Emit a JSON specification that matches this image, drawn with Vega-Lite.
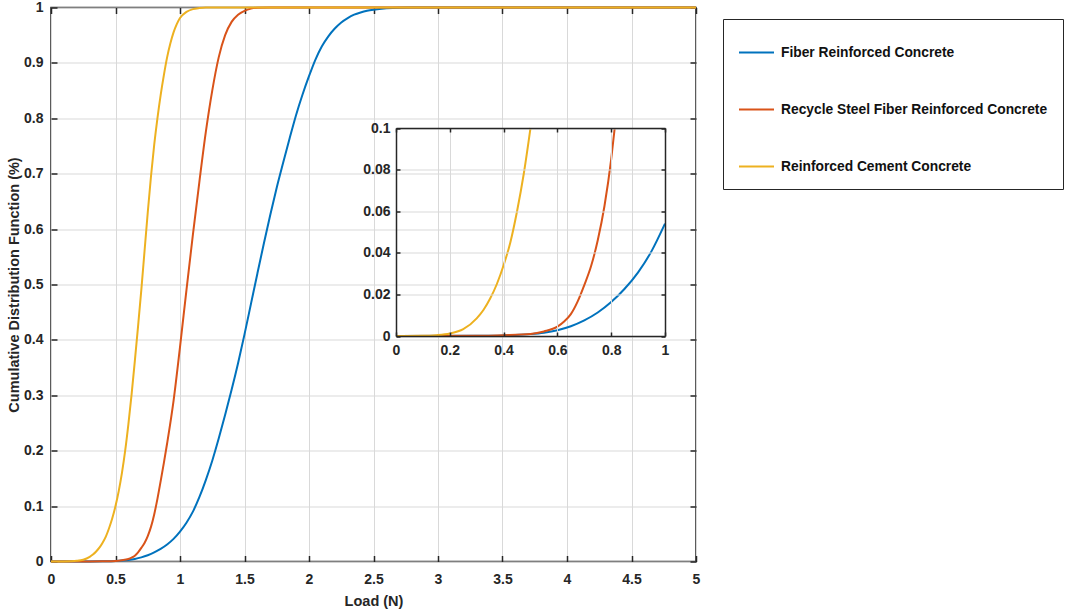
{
  "$schema": "https://vega.github.io/schema/vega-lite/v6.json",
  "width": 645,
  "height": 554,
  "autosize": {"type": "none"},
  "padding": {"left": 51, "top": 7.5, "right": 370, "bottom": 48.5},
  "background": "white",
  "config": {
    "view": {"stroke": "#262626", "strokeWidth": 1.5},
    "axis": {
      "labelFont": "Liberation Sans",
      "labelFontWeight": "bold",
      "labelFontSize": 14,
      "labelColor": "#262626",
      "titleFont": "Liberation Sans",
      "titleFontWeight": "bold",
      "titleFontSize": 14.5,
      "titleColor": "#262626",
      "tickColor": "#262626",
      "tickWidth": 1.5,
      "gridColor": "#d9d9d9",
      "gridWidth": 1,
      "domain": false
    }
  },
  "datasets": {
    "main": [
      {"series": "Fiber Reinforced Concrete", "load": 0, "cdf": 0},
      {"series": "Fiber Reinforced Concrete", "load": 0.3, "cdf": 0.0001},
      {"series": "Fiber Reinforced Concrete", "load": 0.4, "cdf": 0.0003},
      {"series": "Fiber Reinforced Concrete", "load": 0.5, "cdf": 0.0009},
      {"series": "Fiber Reinforced Concrete", "load": 0.55, "cdf": 0.0016},
      {"series": "Fiber Reinforced Concrete", "load": 0.6, "cdf": 0.0028},
      {"series": "Fiber Reinforced Concrete", "load": 0.65, "cdf": 0.0047},
      {"series": "Fiber Reinforced Concrete", "load": 0.7, "cdf": 0.0075},
      {"series": "Fiber Reinforced Concrete", "load": 0.75, "cdf": 0.0113},
      {"series": "Fiber Reinforced Concrete", "load": 0.8, "cdf": 0.0163},
      {"series": "Fiber Reinforced Concrete", "load": 0.85, "cdf": 0.0227},
      {"series": "Fiber Reinforced Concrete", "load": 0.9, "cdf": 0.0306},
      {"series": "Fiber Reinforced Concrete", "load": 0.95, "cdf": 0.0408},
      {"series": "Fiber Reinforced Concrete", "load": 1.0, "cdf": 0.054},
      {"series": "Fiber Reinforced Concrete", "load": 1.05, "cdf": 0.07},
      {"series": "Fiber Reinforced Concrete", "load": 1.1, "cdf": 0.09},
      {"series": "Fiber Reinforced Concrete", "load": 1.15, "cdf": 0.116},
      {"series": "Fiber Reinforced Concrete", "load": 1.2, "cdf": 0.147},
      {"series": "Fiber Reinforced Concrete", "load": 1.25, "cdf": 0.182},
      {"series": "Fiber Reinforced Concrete", "load": 1.3, "cdf": 0.222},
      {"series": "Fiber Reinforced Concrete", "load": 1.35, "cdf": 0.265},
      {"series": "Fiber Reinforced Concrete", "load": 1.4, "cdf": 0.31},
      {"series": "Fiber Reinforced Concrete", "load": 1.45, "cdf": 0.358},
      {"series": "Fiber Reinforced Concrete", "load": 1.5, "cdf": 0.41},
      {"series": "Fiber Reinforced Concrete", "load": 1.55, "cdf": 0.465},
      {"series": "Fiber Reinforced Concrete", "load": 1.6, "cdf": 0.52},
      {"series": "Fiber Reinforced Concrete", "load": 1.65, "cdf": 0.574},
      {"series": "Fiber Reinforced Concrete", "load": 1.7, "cdf": 0.626},
      {"series": "Fiber Reinforced Concrete", "load": 1.75, "cdf": 0.675},
      {"series": "Fiber Reinforced Concrete", "load": 1.8, "cdf": 0.72},
      {"series": "Fiber Reinforced Concrete", "load": 1.85, "cdf": 0.764},
      {"series": "Fiber Reinforced Concrete", "load": 1.9, "cdf": 0.806},
      {"series": "Fiber Reinforced Concrete", "load": 1.95, "cdf": 0.843},
      {"series": "Fiber Reinforced Concrete", "load": 2.0, "cdf": 0.876},
      {"series": "Fiber Reinforced Concrete", "load": 2.05, "cdf": 0.906},
      {"series": "Fiber Reinforced Concrete", "load": 2.1, "cdf": 0.93},
      {"series": "Fiber Reinforced Concrete", "load": 2.15, "cdf": 0.948},
      {"series": "Fiber Reinforced Concrete", "load": 2.2, "cdf": 0.962},
      {"series": "Fiber Reinforced Concrete", "load": 2.25, "cdf": 0.973},
      {"series": "Fiber Reinforced Concrete", "load": 2.3, "cdf": 0.981},
      {"series": "Fiber Reinforced Concrete", "load": 2.35, "cdf": 0.987},
      {"series": "Fiber Reinforced Concrete", "load": 2.4, "cdf": 0.991},
      {"series": "Fiber Reinforced Concrete", "load": 2.45, "cdf": 0.994},
      {"series": "Fiber Reinforced Concrete", "load": 2.5, "cdf": 0.996},
      {"series": "Fiber Reinforced Concrete", "load": 2.6, "cdf": 0.9985},
      {"series": "Fiber Reinforced Concrete", "load": 2.7, "cdf": 0.9997},
      {"series": "Fiber Reinforced Concrete", "load": 2.8, "cdf": 1},
      {"series": "Fiber Reinforced Concrete", "load": 5, "cdf": 1},
      {"series": "Recycle Steel Fiber Reinforced Concrete", "load": 0, "cdf": 0},
      {"series": "Recycle Steel Fiber Reinforced Concrete", "load": 0.3, "cdf": 0.0001},
      {"series": "Recycle Steel Fiber Reinforced Concrete", "load": 0.4, "cdf": 0.0004},
      {"series": "Recycle Steel Fiber Reinforced Concrete", "load": 0.5, "cdf": 0.001},
      {"series": "Recycle Steel Fiber Reinforced Concrete", "load": 0.55, "cdf": 0.0022},
      {"series": "Recycle Steel Fiber Reinforced Concrete", "load": 0.6, "cdf": 0.0045},
      {"series": "Recycle Steel Fiber Reinforced Concrete", "load": 0.625, "cdf": 0.007},
      {"series": "Recycle Steel Fiber Reinforced Concrete", "load": 0.65, "cdf": 0.0105},
      {"series": "Recycle Steel Fiber Reinforced Concrete", "load": 0.675, "cdf": 0.0165},
      {"series": "Recycle Steel Fiber Reinforced Concrete", "load": 0.7, "cdf": 0.0245},
      {"series": "Recycle Steel Fiber Reinforced Concrete", "load": 0.725, "cdf": 0.0335},
      {"series": "Recycle Steel Fiber Reinforced Concrete", "load": 0.75, "cdf": 0.046},
      {"series": "Recycle Steel Fiber Reinforced Concrete", "load": 0.775, "cdf": 0.0625},
      {"series": "Recycle Steel Fiber Reinforced Concrete", "load": 0.8, "cdf": 0.085},
      {"series": "Recycle Steel Fiber Reinforced Concrete", "load": 0.825, "cdf": 0.113},
      {"series": "Recycle Steel Fiber Reinforced Concrete", "load": 0.85, "cdf": 0.145},
      {"series": "Recycle Steel Fiber Reinforced Concrete", "load": 0.875, "cdf": 0.178},
      {"series": "Recycle Steel Fiber Reinforced Concrete", "load": 0.9, "cdf": 0.213},
      {"series": "Recycle Steel Fiber Reinforced Concrete", "load": 0.95, "cdf": 0.29},
      {"series": "Recycle Steel Fiber Reinforced Concrete", "load": 1.0, "cdf": 0.387},
      {"series": "Recycle Steel Fiber Reinforced Concrete", "load": 1.05, "cdf": 0.49},
      {"series": "Recycle Steel Fiber Reinforced Concrete", "load": 1.1, "cdf": 0.59},
      {"series": "Recycle Steel Fiber Reinforced Concrete", "load": 1.15, "cdf": 0.685},
      {"series": "Recycle Steel Fiber Reinforced Concrete", "load": 1.2, "cdf": 0.775},
      {"series": "Recycle Steel Fiber Reinforced Concrete", "load": 1.25, "cdf": 0.85},
      {"series": "Recycle Steel Fiber Reinforced Concrete", "load": 1.3, "cdf": 0.91},
      {"series": "Recycle Steel Fiber Reinforced Concrete", "load": 1.35, "cdf": 0.95},
      {"series": "Recycle Steel Fiber Reinforced Concrete", "load": 1.4, "cdf": 0.974},
      {"series": "Recycle Steel Fiber Reinforced Concrete", "load": 1.45, "cdf": 0.987},
      {"series": "Recycle Steel Fiber Reinforced Concrete", "load": 1.5, "cdf": 0.994},
      {"series": "Recycle Steel Fiber Reinforced Concrete", "load": 1.55, "cdf": 0.998},
      {"series": "Recycle Steel Fiber Reinforced Concrete", "load": 1.6, "cdf": 0.9995},
      {"series": "Recycle Steel Fiber Reinforced Concrete", "load": 1.7, "cdf": 1},
      {"series": "Recycle Steel Fiber Reinforced Concrete", "load": 5, "cdf": 1},
      {"series": "Reinforced Cement Concrete", "load": 0, "cdf": 0},
      {"series": "Reinforced Cement Concrete", "load": 0.1, "cdf": 0.0001},
      {"series": "Reinforced Cement Concrete", "load": 0.15, "cdf": 0.0004},
      {"series": "Reinforced Cement Concrete", "load": 0.2, "cdf": 0.0012},
      {"series": "Reinforced Cement Concrete", "load": 0.25, "cdf": 0.0033},
      {"series": "Reinforced Cement Concrete", "load": 0.3, "cdf": 0.0085},
      {"series": "Reinforced Cement Concrete", "load": 0.325, "cdf": 0.0125},
      {"series": "Reinforced Cement Concrete", "load": 0.35, "cdf": 0.018},
      {"series": "Reinforced Cement Concrete", "load": 0.375, "cdf": 0.025},
      {"series": "Reinforced Cement Concrete", "load": 0.4, "cdf": 0.034},
      {"series": "Reinforced Cement Concrete", "load": 0.425, "cdf": 0.045},
      {"series": "Reinforced Cement Concrete", "load": 0.45, "cdf": 0.06},
      {"series": "Reinforced Cement Concrete", "load": 0.475, "cdf": 0.078},
      {"series": "Reinforced Cement Concrete", "load": 0.5, "cdf": 0.1},
      {"series": "Reinforced Cement Concrete", "load": 0.525, "cdf": 0.127},
      {"series": "Reinforced Cement Concrete", "load": 0.55, "cdf": 0.16},
      {"series": "Reinforced Cement Concrete", "load": 0.575, "cdf": 0.2},
      {"series": "Reinforced Cement Concrete", "load": 0.6, "cdf": 0.248},
      {"series": "Reinforced Cement Concrete", "load": 0.625, "cdf": 0.302},
      {"series": "Reinforced Cement Concrete", "load": 0.65, "cdf": 0.362},
      {"series": "Reinforced Cement Concrete", "load": 0.675, "cdf": 0.425},
      {"series": "Reinforced Cement Concrete", "load": 0.7, "cdf": 0.49},
      {"series": "Reinforced Cement Concrete", "load": 0.725, "cdf": 0.56},
      {"series": "Reinforced Cement Concrete", "load": 0.75, "cdf": 0.63},
      {"series": "Reinforced Cement Concrete", "load": 0.775, "cdf": 0.695},
      {"series": "Reinforced Cement Concrete", "load": 0.8, "cdf": 0.752},
      {"series": "Reinforced Cement Concrete", "load": 0.825, "cdf": 0.8},
      {"series": "Reinforced Cement Concrete", "load": 0.85, "cdf": 0.842},
      {"series": "Reinforced Cement Concrete", "load": 0.875, "cdf": 0.878},
      {"series": "Reinforced Cement Concrete", "load": 0.9, "cdf": 0.91},
      {"series": "Reinforced Cement Concrete", "load": 0.925, "cdf": 0.935},
      {"series": "Reinforced Cement Concrete", "load": 0.95, "cdf": 0.955},
      {"series": "Reinforced Cement Concrete", "load": 0.975, "cdf": 0.97},
      {"series": "Reinforced Cement Concrete", "load": 1.0, "cdf": 0.981},
      {"series": "Reinforced Cement Concrete", "load": 1.05, "cdf": 0.992},
      {"series": "Reinforced Cement Concrete", "load": 1.1, "cdf": 0.997},
      {"series": "Reinforced Cement Concrete", "load": 1.15, "cdf": 0.999},
      {"series": "Reinforced Cement Concrete", "load": 1.2, "cdf": 1},
      {"series": "Reinforced Cement Concrete", "load": 5, "cdf": 1}
    ],
    "inset": [
      {"series": "Fiber Reinforced Concrete", "load": 0, "cdf": 0},
      {"series": "Fiber Reinforced Concrete", "load": 0.3, "cdf": 0.0001},
      {"series": "Fiber Reinforced Concrete", "load": 0.4, "cdf": 0.0003},
      {"series": "Fiber Reinforced Concrete", "load": 0.5, "cdf": 0.0009},
      {"series": "Fiber Reinforced Concrete", "load": 0.55, "cdf": 0.0016},
      {"series": "Fiber Reinforced Concrete", "load": 0.6, "cdf": 0.0028},
      {"series": "Fiber Reinforced Concrete", "load": 0.65, "cdf": 0.0047},
      {"series": "Fiber Reinforced Concrete", "load": 0.7, "cdf": 0.0075},
      {"series": "Fiber Reinforced Concrete", "load": 0.75, "cdf": 0.0113},
      {"series": "Fiber Reinforced Concrete", "load": 0.8, "cdf": 0.0163},
      {"series": "Fiber Reinforced Concrete", "load": 0.85, "cdf": 0.0227},
      {"series": "Fiber Reinforced Concrete", "load": 0.9, "cdf": 0.0306},
      {"series": "Fiber Reinforced Concrete", "load": 0.95, "cdf": 0.0408},
      {"series": "Fiber Reinforced Concrete", "load": 1.0, "cdf": 0.054},
      {"series": "Recycle Steel Fiber Reinforced Concrete", "load": 0, "cdf": 0},
      {"series": "Recycle Steel Fiber Reinforced Concrete", "load": 0.3, "cdf": 0.0001},
      {"series": "Recycle Steel Fiber Reinforced Concrete", "load": 0.4, "cdf": 0.0004},
      {"series": "Recycle Steel Fiber Reinforced Concrete", "load": 0.5, "cdf": 0.001},
      {"series": "Recycle Steel Fiber Reinforced Concrete", "load": 0.55, "cdf": 0.0022},
      {"series": "Recycle Steel Fiber Reinforced Concrete", "load": 0.6, "cdf": 0.0045},
      {"series": "Recycle Steel Fiber Reinforced Concrete", "load": 0.625, "cdf": 0.007},
      {"series": "Recycle Steel Fiber Reinforced Concrete", "load": 0.65, "cdf": 0.0105},
      {"series": "Recycle Steel Fiber Reinforced Concrete", "load": 0.675, "cdf": 0.0165},
      {"series": "Recycle Steel Fiber Reinforced Concrete", "load": 0.7, "cdf": 0.0245},
      {"series": "Recycle Steel Fiber Reinforced Concrete", "load": 0.725, "cdf": 0.0335},
      {"series": "Recycle Steel Fiber Reinforced Concrete", "load": 0.75, "cdf": 0.046},
      {"series": "Recycle Steel Fiber Reinforced Concrete", "load": 0.775, "cdf": 0.0625},
      {"series": "Recycle Steel Fiber Reinforced Concrete", "load": 0.8, "cdf": 0.085},
      {"series": "Recycle Steel Fiber Reinforced Concrete", "load": 0.813, "cdf": 0.1},
      {"series": "Reinforced Cement Concrete", "load": 0, "cdf": 0},
      {"series": "Reinforced Cement Concrete", "load": 0.1, "cdf": 0.0001},
      {"series": "Reinforced Cement Concrete", "load": 0.15, "cdf": 0.0004},
      {"series": "Reinforced Cement Concrete", "load": 0.2, "cdf": 0.0012},
      {"series": "Reinforced Cement Concrete", "load": 0.25, "cdf": 0.0033},
      {"series": "Reinforced Cement Concrete", "load": 0.3, "cdf": 0.0085},
      {"series": "Reinforced Cement Concrete", "load": 0.325, "cdf": 0.0125},
      {"series": "Reinforced Cement Concrete", "load": 0.35, "cdf": 0.018},
      {"series": "Reinforced Cement Concrete", "load": 0.375, "cdf": 0.025},
      {"series": "Reinforced Cement Concrete", "load": 0.4, "cdf": 0.034},
      {"series": "Reinforced Cement Concrete", "load": 0.425, "cdf": 0.045},
      {"series": "Reinforced Cement Concrete", "load": 0.45, "cdf": 0.06},
      {"series": "Reinforced Cement Concrete", "load": 0.475, "cdf": 0.078},
      {"series": "Reinforced Cement Concrete", "load": 0.5, "cdf": 0.1}
    ]
  },
  "layer": [
    {
      "data": {"name": "main"},
      "mark": {"type": "line", "strokeWidth": 2, "interpolate": "monotone"},
      "encoding": {
        "x": {
          "field": "load", "type": "quantitative",
          "scale": {"domain": [0, 5], "nice": false, "zero": false},
          "axis": {
            "orient": "bottom", "title": "Load (N)",
            "values": [0, 0.5, 1, 1.5, 2, 2.5, 3, 3.5, 4, 4.5, 5],
            "format": ".1~f", "grid": true, "tickSize": -6,
            "labelPadding": 17, "titlePadding": 8, "labelFlush": false, "zindex": 0
          }
        },
        "y": {
          "field": "cdf", "type": "quantitative",
          "scale": {"domain": [0, 1], "nice": false},
          "axis": {
            "orient": "left", "title": "Cumulative Distribution Function (%)",
            "values": [0, 0.1, 0.2, 0.3, 0.4, 0.5, 0.6, 0.7, 0.8, 0.9, 1],
            "format": ".1~f", "grid": true, "tickSize": -6,
            "labelPadding": 14, "titlePadding": 2, "labelFlush": false, "zindex": 0
          }
        },
        "color": {
          "field": "series", "type": "nominal",
          "scale": {
            "domain": ["Fiber Reinforced Concrete", "Recycle Steel Fiber Reinforced Concrete", "Reinforced Cement Concrete"],
            "range": ["#0072BD", "#D95319", "#EDB120"]
          },
          "legend": {
            "title": null, "orient": "none", "legendX": 672, "legendY": 11.5,
            "symbolType": "stroke", "symbolSize": 1225, "symbolStrokeWidth": 2,
            "labelFont": "Liberation Sans", "labelFontWeight": "bold", "labelFontSize": 13.8,
            "labelColor": "#111111", "labelLimit": 400, "labelOffset": 6,
            "padding": 15, "rowPadding": 31,
            "strokeColor": "#262626", "fillColor": "white"
          }
        }
      }
    },
    {
      "data": {"name": "main"},
      "mark": {"type": "line", "opacity": 0},
      "encoding": {
        "x": {
          "field": "load", "type": "quantitative",
          "scale": {"domain": [0, 5], "nice": false, "zero": false},
          "axis": {
            "orient": "top", "title": null, "labels": false, "grid": false,
            "values": [0, 0.5, 1, 1.5, 2, 2.5, 3, 3.5, 4, 4.5, 5], "tickSize": -6
          }
        },
        "y": {
          "field": "cdf", "type": "quantitative",
          "scale": {"domain": [0, 1], "nice": false},
          "axis": {
            "orient": "right", "title": null, "labels": false, "grid": false,
            "values": [0, 0.1, 0.2, 0.3, 0.4, 0.5, 0.6, 0.7, 0.8, 0.9, 1], "tickSize": -6
          }
        }
      }
    },
    {
      "mark": {"type": "rect", "fill": "white", "strokeWidth": 0},
      "encoding": {
        "x": {
          "datum": 0, "type": "quantitative",
          "scale": {"domain": [0, 1], "range": [345, 614], "nice": false},
          "axis": {
            "orient": "top", "offset": -120.5, "title": null, "labels": false, "grid": true,
            "domain": true, "domainColor": "#262626", "domainWidth": 1.5,
            "values": [0, 0.2, 0.4, 0.6, 0.8, 1], "tickSize": -4, "zindex": 1
          }
        },
        "x2": {"datum": 1},
        "y": {
          "datum": 0, "type": "quantitative",
          "scale": {"domain": [0, 0.1], "range": [328.5, 120.5], "nice": false},
          "axis": {
            "orient": "right", "offset": -31, "title": null, "labels": false, "grid": false,
            "domain": true, "domainColor": "#262626", "domainWidth": 1.5,
            "values": [0, 0.02, 0.04, 0.06, 0.08, 0.1], "tickSize": -4, "zindex": 1
          }
        },
        "y2": {"datum": 0.1}
      }
    },
    {
      "data": {"name": "inset"},
      "mark": {"type": "line", "strokeWidth": 2, "interpolate": "monotone", "zindex": 2},
      "encoding": {
        "x": {
          "field": "load", "type": "quantitative",
          "scale": {"domain": [0, 1], "range": [345, 614], "nice": false, "zero": false},
          "axis": {
            "orient": "bottom", "offset": -225.5, "title": null,
            "values": [0, 0.2, 0.4, 0.6, 0.8, 1], "format": ".1~f",
            "domain": true, "domainColor": "#262626", "domainWidth": 1.5,
            "grid": false, "tickSize": -4, "labelPadding": 11, "labelFlush": false, "zindex": 1
          }
        },
        "y": {
          "field": "cdf", "type": "quantitative",
          "scale": {"domain": [0, 0.1], "range": [328.5, 120.5], "nice": false},
          "axis": {
            "orient": "left", "offset": -345, "title": null,
            "values": [0, 0.02, 0.04, 0.06, 0.08, 0.1], "format": ".2~f",
            "domain": true, "domainColor": "#262626", "domainWidth": 1.5,
            "grid": true, "tickSize": -4, "labelPadding": 10, "labelFlush": false, "zindex": 1
          }
        },
        "color": {"field": "series", "type": "nominal"}
      }
    }
  ],
  "resolve": {
    "scale": {"x": "independent", "y": "independent"},
    "axis": {"x": "independent", "y": "independent"}
  }
}
